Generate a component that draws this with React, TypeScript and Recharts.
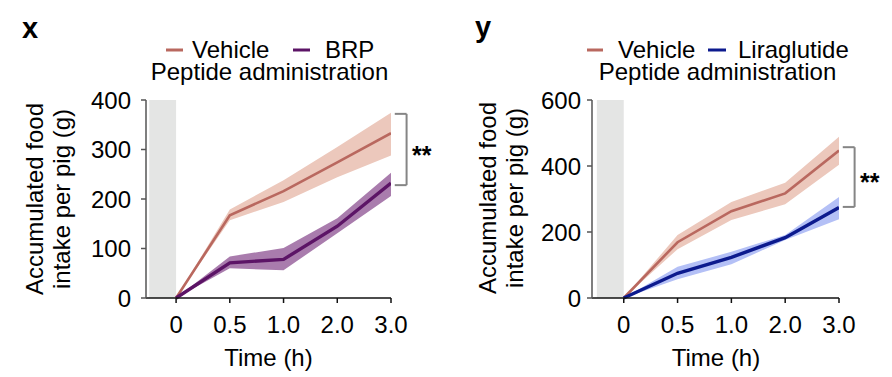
import { ComposedChart, Line, Area, XAxis, YAxis, ReferenceArea, ReferenceLine } from "recharts";

const TIME_LABELS = ["0", "0.5", "1.0", "2.0", "3.0"];
const TIME_INDEX = [0, 1, 2, 3, 4];

// panel x: vehicle vs BRP
const X_VEHICLE_MEAN = [0, 167, 216, 274, 333];
const X_VEHICLE_LOW = [0, 157, 194, 244, 288];
const X_VEHICLE_HIGH = [0, 179, 238, 305, 374];
const X_BRP_MEAN = [0, 71, 78, 145, 232];
const X_BRP_LOW = [0, 60, 56, 131, 206];
const X_BRP_HIGH = [0, 84, 101, 161, 253];
const X_Y_TICKS = [0, 100, 200, 300, 400];
const X_BRACKET = [228, 372];

// panel y: vehicle vs liraglutide
const Y_VEHICLE_MEAN = [0, 169, 263, 317, 447];
const Y_VEHICLE_LOW = [0, 148, 236, 284, 404];
const Y_VEHICLE_HIGH = [0, 191, 291, 349, 489];
const Y_LIRA_MEAN = [0, 75, 123, 183, 274];
const Y_LIRA_LOW = [0, 57, 102, 176, 239];
const Y_LIRA_HIGH = [0, 95, 140, 191, 306];
const Y_Y_TICKS = [0, 200, 400, 600];
const Y_BRACKET = [276, 457];

const FONT = "'Liberation Sans', Arial, Helvetica, sans-serif";
const FS = 24;
const VEHICLE = "#b9685f";
const VEHICLE_BAND = "#ecc8bc";
const BRP = "#5c1466";
const BRP_BAND = "#a97cad";
const LIRA = "#0c1a8e";
const LIRA_BAND = "#b4c0f6";
const GREY = "#e4e5e4";

function build(mean: number[], low: number[], high: number[], mean2: number[], low2: number[], high2: number[]) {
  return TIME_INDEX.map((t, i) => ({
    t,
    a: mean[i],
    aBand: [low[i], high[i]],
    b: mean2[i],
    bBand: [low2[i], high2[i]],
  }));
}

const xData = build(X_VEHICLE_MEAN, X_VEHICLE_LOW, X_VEHICLE_HIGH, X_BRP_MEAN, X_BRP_LOW, X_BRP_HIGH);
const yData = build(Y_VEHICLE_MEAN, Y_VEHICLE_LOW, Y_VEHICLE_HIGH, Y_LIRA_MEAN, Y_LIRA_LOW, Y_LIRA_HIGH);

interface PanelProps {
  data: any[];
  yTicks: number[];
  xMin: number;
  right: number;
  tickMargin: number;
  color: string;
  band: string;
  bracket: number[];
}

function Panel({ data, yTicks, xMin, right, tickMargin, color, band, bracket }: PanelProps) {
  const yMax = yTicks[yTicks.length - 1];
  const bx0 = 4.07;
  const bx1 = 4.29;
  const seg = { stroke: "#858585", strokeWidth: 2, ifOverflow: "visible" as const };
  return (
    <ComposedChart width={446} height={377} data={data} margin={{ top: 100, right, bottom: 39, left: 86 }}>
      <ReferenceArea x1={-0.5} x2={0} y1={0} y2={yMax} fill={GREY} fillOpacity={1} stroke="none" />
      <XAxis
        type="number"
        dataKey="t"
        domain={[xMin, 4]}
        ticks={TIME_INDEX}
        tickFormatter={(v: number) => TIME_LABELS[v] ?? ""}
        allowDataOverflow
        height={40}
        stroke="#111"
        strokeWidth={1.5}
        tickSize={5}
        tickMargin={13}
        tick={{ fill: "#000", fontSize: FS, fontFamily: FONT }}
      />
      <YAxis
        domain={[0, yMax]}
        ticks={yTicks}
        width={60}
        stroke="#555"
        strokeWidth={1.5}
        tickSize={5}
        tickMargin={tickMargin}
        tick={{ fill: "#000", fontSize: FS, fontFamily: FONT }}
      />
      <Area dataKey="aBand" fill={VEHICLE_BAND} fillOpacity={1} stroke="none" isAnimationActive={false} />
      <Area dataKey="bBand" fill={band} fillOpacity={1} stroke="none" isAnimationActive={false} />
      <Line dataKey="a" stroke={VEHICLE} strokeWidth={2.6} dot={false} isAnimationActive={false} />
      <Line dataKey="b" stroke={color} strokeWidth={3.4} dot={false} isAnimationActive={false} />
      <ReferenceLine segment={[{ x: bx0, y: bracket[1] }, { x: bx1, y: bracket[1] }]} {...seg} />
      <ReferenceLine segment={[{ x: bx1, y: bracket[1] }, { x: bx1, y: bracket[0] }]} {...seg} />
      <ReferenceLine segment={[{ x: bx0, y: bracket[0] }, { x: bx1, y: bracket[0] }]} {...seg} />
    </ComposedChart>
  );
}

function Texts() {
  const t = { fontFamily: FONT, fontSize: FS, fill: "#000" };
  return (
    <svg width={892} height={377} style={{ position: "absolute", left: 0, top: 0, pointerEvents: "none" }}>
      <text x={22} y={38} style={{ ...t, fontSize: 29, fontWeight: "bold" }}>x</text>
      <text x={475} y={37} style={{ ...t, fontSize: 29, fontWeight: "bold" }}>y</text>

      <line x1={166} x2={183} y1={50} y2={50} stroke={VEHICLE} strokeWidth={3} />
      <text x={192} y={58} style={t}>Vehicle</text>
      <line x1={293} x2={310} y1={50} y2={50} stroke={BRP} strokeWidth={3} />
      <text x={325} y={58} style={t}>BRP</text>
      <text x={269.5} y={80} textAnchor="middle" style={t}>Peptide administration</text>

      <line x1={587} x2={603} y1={50} y2={50} stroke={VEHICLE} strokeWidth={3} />
      <text x={618} y={58} style={t}>Vehicle</text>
      <line x1={708} x2={726} y1={50} y2={50} stroke={LIRA} strokeWidth={3} />
      <text x={738} y={58} style={t}>Liraglutide</text>
      <text x={717.5} y={80} textAnchor="middle" style={t}>Peptide administration</text>

      <text transform="translate(43,199) rotate(-90)" textAnchor="middle" style={t}>Accumulated food</text>
      <text transform="translate(70,199) rotate(-90)" textAnchor="middle" style={t}>intake per pig (g)</text>
      <text transform="translate(496,198) rotate(-90)" textAnchor="middle" style={t}>Accumulated food</text>
      <text transform="translate(523,198) rotate(-90)" textAnchor="middle" style={t}>intake per pig (g)</text>

      <text x={268.5} y={366} textAnchor="middle" style={t}>Time (h)</text>
      <text x={716} y={366} textAnchor="middle" style={t}>Time (h)</text>

      <text x={412} y={164} style={{ ...t, fontSize: 25, fontWeight: "bold" }}>**</text>
      <text x={860} y={191} style={{ ...t, fontSize: 25, fontWeight: "bold" }}>**</text>
    </svg>
  );
}

export default function App() {
  return (
    <div style={{ position: "fixed", left: 0, top: 0, width: 892, height: 377, background: "#fff", fontFamily: FONT }}>
      <div style={{ position: "absolute", left: 0, top: 0 }}>
        <Panel data={xData} yTicks={X_Y_TICKS} xMin={-0.56} right={55} tickMargin={10} color={BRP} band={BRP_BAND} bracket={X_BRACKET} />
      </div>
      <div style={{ position: "absolute", left: 446, top: 0 }}>
        <Panel data={yData} yTicks={Y_Y_TICKS} xMin={-0.59} right={53} tickMargin={6} color={LIRA} band={LIRA_BAND} bracket={Y_BRACKET} />
      </div>
      <Texts />
    </div>
  );
}
